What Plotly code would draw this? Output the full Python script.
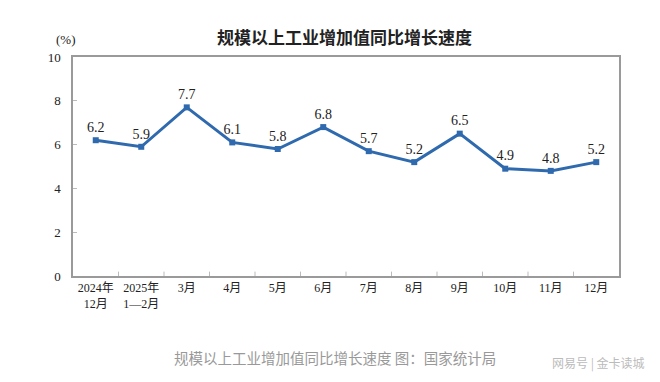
import plotly.graph_objects as go

categories = ["2024年<br>12月", "2025年<br>1—2月", "3月", "4月", "5月", "6月", "7月", "8月", "9月", "10月", "11月", "12月"]
values = [6.2, 5.9, 7.7, 6.1, 5.8, 6.8, 5.7, 5.2, 6.5, 4.9, 4.8, 5.2]
y_ticks = [0, 2, 4, 6, 8, 10]

FONT = "Liberation Serif, Noto Sans CJK SC, serif"
LINE = "#2F6AAE"

fig = go.Figure()
fig.add_trace(go.Scatter(
    x=categories, y=values, mode="lines+markers+text",
    line=dict(color=LINE, width=3),
    marker=dict(symbol="square", size=6, color=LINE),
    text=[f"{v:.1f}" for v in values], textposition="top center",
    textfont=dict(family=FONT, size=14, color="#222"),
    cliponaxis=False, hoverinfo="skip",
))

fig.update_layout(
    width=660, height=382,
    margin=dict(l=65, r=49, t=49, b=114),
    paper_bgcolor="white", plot_bgcolor="white",
    showlegend=False,
    font=dict(family=FONT, size=12, color="#222"),
    xaxis=dict(
        type="category", range=[-0.5, 11.5],
        showline=True, linecolor="#9a9a9a", linewidth=1.5, mirror=True,
        showgrid=False, ticks="", tickfont=dict(family=FONT, size=12, color="#222"),
        fixedrange=True,
    ),
    yaxis=dict(
        range=[0, 10], tickvals=y_ticks,
        showline=True, linecolor="#9a9a9a", linewidth=1.5, mirror=True,
        showgrid=False, ticks="inside", ticklen=4, tickcolor="#bbb",
        ticklabelstandoff=8,
        tickfont=dict(family=FONT, size=13, color="#222"),
        zeroline=False, fixedrange=True,
    ),
    annotations=[
        dict(text="<b>规模以上工业增加值同比增长速度</b>", x=0.497, xref="paper", y=1.095, yref="paper",
             yanchor="middle", showarrow=False,
             font=dict(family="Noto Sans CJK SC", size=17, color="#222")),
        dict(text="(%)", xref="paper", yref="paper", x=-0.035, y=1.078, yanchor="middle",
             showarrow=False, font=dict(family=FONT, size=13, color="#222")),
        dict(text="规模以上工业增加值同比增长速度 图：国家统计局", xref="paper", yref="paper",
             x=0.48, y=-0.37, yanchor="middle", showarrow=False,
             font=dict(family="Noto Sans CJK SC", size=14.5, color="#999")),
        dict(text="网易号 | 金卡读城", xref="paper", yref="paper",
             x=(639 - 65) / 546, y=(268 - 355) / 219, xanchor="right", yanchor="middle",
             showarrow=False,
             font=dict(family="Noto Sans CJK SC", size=12, color="#bbb")),
    ],
)

# category boundary ticks on bottom axis
for i in range(1, 12):
    fig.add_shape(type="line", xref="x", yref="paper", x0=i - 0.5, x1=i - 0.5, y0=0, y1=0.02,
                  line=dict(color="#bbb", width=1))

fig.write_html("out.html")
